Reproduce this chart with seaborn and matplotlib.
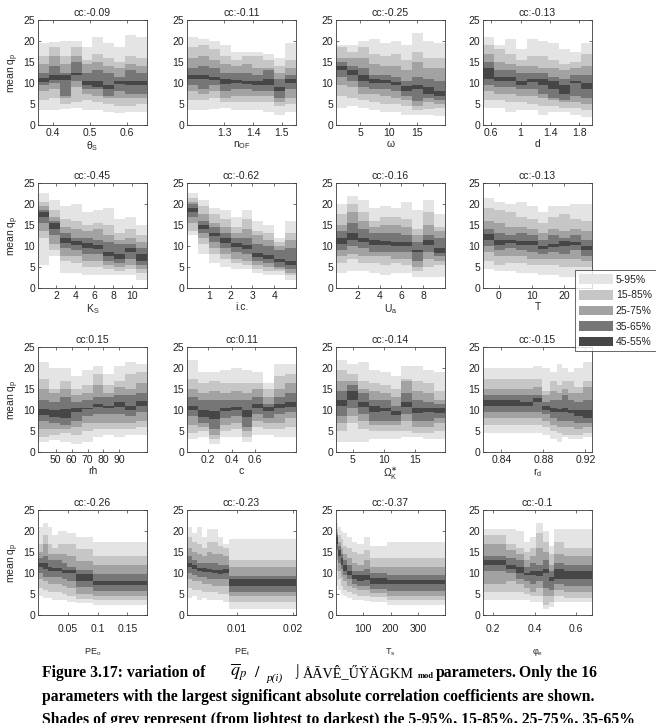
import numpy as np
import matplotlib.pyplot as plt
import seaborn as sns
from matplotlib.patches import Patch

# percentile bands (outer -> inner) and their greys
band_labels = ["5-95%", "15-85%", "25-75%", "35-65%", "45-55%"]
band_colors = ["#e4e4e4", "#c6c6c6", "#a2a2a2", "#767676", "#464646"]

# each *_q holds the 5,15,25,35,45,55,65,75,85,95th percentile of mean q_p per bin
thetas_edges = [0.36, 0.389, 0.419, 0.448, 0.478, 0.507, 0.537, 0.566, 0.596, 0.625, 0.655]
thetas_q = [
    [3.5, 3.5, 3.8, 4, 3.5, 3.5, 3.2, 2.8, 3, 3],
    [6, 6.5, 5, 5.5, 6, 5.5, 5, 4.5, 4.5, 5],
    [8, 8.5, 6.5, 9, 7.5, 7, 6.5, 6.5, 6.5, 6.5],
    [9.5, 10, 7, 10.5, 8.5, 8.5, 7, 8, 7.5, 7.5],
    [10.3, 10.8, 10.8, 11.8, 9.5, 9, 8.5, 9.8, 9.5, 9.5],
    [11.2, 11.8, 11.8, 12.3, 10.5, 10.5, 9.5, 10.5, 10.5, 10.5],
    [12.5, 14, 12.5, 15, 12.5, 13, 12.5, 11.5, 13, 12.5],
    [14.5, 16.5, 14.5, 16.5, 14.5, 15, 14, 13.5, 14.5, 14],
    [16.5, 18.5, 16.5, 18.5, 15.5, 17, 16, 15, 16.5, 16],
    [19.5, 19.8, 20, 20, 18.5, 21, 19.5, 18.5, 21.5, 21],
]

nof_edges = [1.17, 1.208, 1.246, 1.284, 1.322, 1.36, 1.398, 1.436, 1.474, 1.512, 1.55]
nof_q = [
    [3.5, 3.5, 3.8, 4, 3.5, 3.5, 3.5, 3, 2.5, 3],
    [6, 6, 6.5, 5.5, 5.5, 5.5, 5.5, 5.5, 4.5, 5],
    [8, 7.5, 8, 6.5, 7, 7, 7, 7, 5.5, 6.5],
    [9.5, 8.5, 9.5, 8, 8.5, 8.5, 8, 8, 6.5, 8.5],
    [11, 11, 10.8, 9.8, 10, 9.8, 9.5, 9.5, 8, 10],
    [12, 11.8, 11.5, 11, 10.8, 10.5, 10.5, 11, 9, 11],
    [13.5, 14, 13.5, 12.5, 12.5, 12.5, 12, 13, 11, 12],
    [16, 16.5, 15.5, 14.5, 14, 14.5, 13.5, 13.5, 12.5, 13.5],
    [18.5, 19, 18, 16.5, 15.5, 16.5, 16.5, 15.5, 14, 15.5],
    [21, 20.5, 20, 19, 17.5, 17.5, 17.5, 17, 16, 19.5],
]

omega_edges = [0.8, 2.7, 4.6, 6.5, 8.4, 10.3, 12.2, 14.1, 16.0, 17.9, 19.8]
omega_q = [
    [4, 4.5, 4, 3.5, 3, 3, 2.5, 2.5, 2.5, 2.2],
    [7, 6.5, 6, 5.5, 5, 5, 4.5, 3.5, 3.8, 4],
    [9.5, 9, 7.5, 7.5, 7, 6.5, 6, 4.5, 5.5, 5],
    [11.5, 10.5, 9, 8.5, 8.5, 8, 7, 5.8, 6.5, 6],
    [13, 12, 10.5, 10, 10, 9.5, 8.2, 8.5, 7.5, 7],
    [14, 13, 12, 11, 10.8, 10.3, 9.2, 9.5, 9, 8],
    [15, 14, 13.5, 12, 12, 11.5, 10.5, 11.5, 11, 10.5],
    [16, 16, 16, 14.5, 14, 14, 13, 15, 13.5, 13.5],
    [18.5, 17.5, 18.5, 17, 16.5, 17, 15.5, 17.5, 16, 16],
    [19, 19, 20, 20.5, 19.5, 20, 19, 22, 20, 19.5],
]

d_edges = [0.49, 0.638, 0.786, 0.934, 1.082, 1.23, 1.378, 1.526, 1.674, 1.822, 1.97]
d_q = [
    [4, 4, 3, 3.5, 3.5, 2.5, 3, 3, 2.5, 1.8],
    [6, 6, 5.5, 5.5, 5, 4.5, 4.5, 4, 4, 3.5],
    [8, 7.5, 7.5, 7, 7, 6.5, 6, 5.5, 5.5, 5],
    [9.5, 9, 9, 8.5, 8.5, 7.5, 6.5, 6, 7, 6.5],
    [11, 10.5, 10.5, 9.5, 10.2, 9.5, 8.5, 7.5, 10, 8.5],
    [13.5, 11.5, 11.5, 10.5, 11, 11, 10.5, 9.5, 10.5, 10],
    [15, 13, 13, 12.5, 12.5, 12.5, 11.5, 11, 12, 12],
    [17, 15, 14.5, 14, 14, 13.5, 13.5, 13, 13.5, 14],
    [19, 18, 17, 15.5, 16.5, 16.5, 15.5, 14.5, 15, 17],
    [21, 19, 20.5, 18, 20.5, 20, 19.5, 18, 17.5, 19.5],
]

ks_edges = [0.05, 1.2, 2.35, 3.5, 4.65, 5.8, 6.95, 8.1, 9.25, 10.4, 11.55]
ks_q = [
    [5.5, 7.5, 3.5, 3.5, 3, 3, 3, 3, 3, 2],
    [12, 9, 6.5, 6, 5, 5, 4.5, 4, 4.5, 3.5],
    [13.5, 10.5, 7.5, 7.5, 6.5, 6.5, 5.5, 5, 5.5, 4.5],
    [15.5, 12.5, 9.5, 9, 8, 8, 6.5, 6, 7, 5.5],
    [16.8, 14, 10.8, 10.3, 9.5, 9.2, 7.5, 7, 8.5, 6.5],
    [18, 15.5, 11.8, 11.3, 10.8, 10.3, 8.5, 8, 9.5, 8],
    [18.5, 16, 13, 12, 12, 11.5, 11, 10.5, 10.5, 9.5],
    [19.5, 17, 14.5, 14, 13.5, 14, 12.5, 11.5, 12, 11],
    [20.5, 18.5, 16.5, 16, 15, 15.5, 15, 13, 14, 12.5],
    [22.5, 21, 19.5, 20, 18, 18.5, 19, 16.5, 17, 15],
]

ic_edges = [0, 0.5, 1, 1.5, 2, 2.5, 3, 3.5, 4, 4.5, 5]
ic_q = [
    [12.5, 8, 6, 5, 4.5, 4.5, 3.5, 3, 3, 2],
    [13.5, 10.5, 8, 7, 6, 5.5, 4.5, 4, 4, 3],
    [15.5, 12, 9.5, 8, 7, 6.5, 5.5, 5, 4.5, 3.5],
    [17, 13, 11, 9.5, 8.5, 8, 6.5, 6, 5, 4.5],
    [18.2, 14, 12.3, 10.8, 9.8, 9.3, 7.3, 7, 6.2, 5.5],
    [19, 15, 13.2, 11.8, 10.8, 10.3, 8.3, 7.8, 7, 6.5],
    [20, 16, 14.5, 13, 12, 12, 10.5, 10, 9, 9.5],
    [20.5, 17.5, 15.5, 14.5, 13, 14, 12.5, 11.5, 10, 11.5],
    [21.5, 19.5, 17.5, 16.5, 14.5, 16.5, 13.5, 13, 11, 13],
    [22.5, 21, 19, 18.5, 17, 18.5, 16, 15, 12, 16],
]

ua_edges = [0, 1, 2, 3, 4, 5, 6, 7, 8, 9, 10]
ua_q = [
    [3.5, 4, 4, 3.5, 3, 3.5, 3.5, 2.5, 2.5, 2.5],
    [6, 7, 6, 6, 5.5, 6, 5.5, 4, 5, 5.5],
    [7.5, 8, 7.5, 7.5, 7.5, 7, 7, 5, 7, 6.5],
    [9, 10, 9.5, 8.5, 8.5, 8.5, 8.5, 6.5, 8.5, 7.5],
    [10.5, 11.5, 11, 10.3, 10.3, 10, 10, 8.5, 10.3, 8.3],
    [12, 13, 12, 11.5, 11.2, 11, 11, 9, 11.5, 9.5],
    [13.5, 15.5, 14, 13, 13, 13, 12.5, 11, 12.5, 12],
    [15, 18, 16, 14.5, 15, 15, 14.5, 12.5, 15, 13.5],
    [17.5, 20, 18, 16, 17, 17, 16.5, 14, 18, 14.5],
    [20, 22, 21, 19, 19.5, 19, 20.5, 18.5, 21, 17.5],
]

t_edges = [-4.8, -1.48, 1.84, 5.16, 8.48, 11.8, 15.12, 18.44, 21.76, 25.08, 28.4]
t_q = [
    [4.5, 4, 4, 3.5, 3.5, 3, 3, 2.5, 2.5, 2.5],
    [6.5, 5.5, 6, 6, 5.5, 5.5, 5.5, 5, 5, 5],
    [8.5, 7.5, 7.5, 7.5, 7, 7, 7, 7, 7, 6.5],
    [10, 9, 9.5, 9, 8.5, 8, 8.5, 8, 9, 7.5],
    [11.5, 10.3, 10.8, 10.3, 10.3, 9.3, 9.8, 10, 10.3, 9],
    [12.8, 11.5, 11.5, 11.3, 11.3, 10, 10.5, 11.3, 11, 10],
    [14, 13, 12.5, 13, 12.5, 11.5, 12.5, 12, 12.5, 11.5],
    [16, 15.5, 14.5, 14.5, 14, 13, 14, 13.5, 14, 13.5],
    [19, 18.5, 18, 17, 16.5, 15.5, 17, 17.5, 16.5, 16],
    [21.5, 20.5, 20, 20.5, 19.5, 18, 19.5, 19.5, 20, 20],
]

rh_edges = [38.8, 45.67, 52.54, 59.41, 66.28, 73.15, 80.02, 86.89, 93.76, 100.63, 107.5]
rh_q = [
    [2.5, 2.8, 2.5, 2, 2.5, 3.5, 4, 3.5, 4, 4],
    [3.5, 4, 4.5, 4, 5, 5.5, 5.5, 5.5, 5.5, 6],
    [5.5, 5.5, 5.5, 6, 7, 7, 7, 7, 7, 7.5],
    [7.5, 7, 6.5, 7.5, 8.5, 9, 9, 9, 8.5, 9.5],
    [8.8, 8.3, 8, 9.5, 10.3, 10.8, 10.5, 10.8, 10, 11],
    [10.3, 10, 10.3, 10.5, 10.5, 11.5, 11, 12, 11, 12.2],
    [12.5, 12, 13, 12, 12.5, 13, 13, 13.5, 13.5, 14],
    [15, 14, 15, 13.5, 14, 16, 14, 15.5, 15, 16.5],
    [17.5, 15, 17, 15, 16, 18.5, 16, 17, 18.5, 19],
    [21.5, 20, 20, 18, 19.5, 20.5, 18.5, 20.5, 21.5, 21],
]

c_edges = [0.02, 0.113, 0.206, 0.299, 0.392, 0.485, 0.578, 0.671, 0.764, 0.857, 0.95]
c_q = [
    [3, 3.5, 2, 3.5, 3.5, 2.5, 4, 4, 3.5, 3.5],
    [4.5, 5, 3, 5, 5.5, 3.5, 6, 5.5, 5.5, 6],
    [6.5, 6, 4, 6.5, 7, 5, 7.5, 7, 7, 8],
    [8.5, 7, 5.5, 8, 8.5, 6, 9, 8, 9, 9.5],
    [10, 8.3, 7.8, 9.8, 10, 8.3, 10.5, 9.8, 10.5, 10.8],
    [11, 10, 9.8, 10.5, 10.8, 10, 11.5, 10.8, 11.5, 12],
    [13, 12.5, 12.5, 12.5, 12.5, 12.5, 13, 11.5, 13, 14],
    [15, 14, 14.5, 14, 14.5, 14, 15, 13, 15, 16.5],
    [17.5, 16.5, 17, 16.5, 16.5, 16.5, 16.5, 15, 18, 18.5],
    [22, 19, 19, 19.5, 20, 19.5, 19, 16.5, 21, 21],
]

omk_edges = [2.3, 4.05, 5.8, 7.55, 9.3, 11.05, 12.8, 14.55, 16.3, 18.05, 19.8]
omk_q = [
    [2.5, 2.5, 2.5, 3, 3, 3, 3.5, 3.5, 3, 3],
    [5, 7, 5.5, 5, 5, 5, 5, 4.5, 4.5, 5],
    [7, 8.5, 7.5, 6.5, 6.5, 6.5, 7.5, 6, 6, 7],
    [8.5, 10.5, 9, 7.5, 7.5, 7.5, 9, 7.5, 7.5, 8],
    [11, 12.5, 10.8, 9.5, 9.8, 8.8, 10.8, 9.3, 9.5, 9.3],
    [12.5, 14.5, 12, 11, 10.5, 9.8, 12, 10.5, 10.5, 10.5],
    [14.5, 16, 14, 12.5, 12.5, 11, 14, 12.5, 12, 11.5],
    [17, 17, 15, 14.5, 14, 13, 17, 14.5, 14, 12.5],
    [19.5, 18.5, 17, 16.5, 16, 15, 17.5, 17, 16.5, 14.5],
    [22, 21, 21.5, 19.5, 19, 18, 20.5, 20.5, 19.5, 19],
]

rd_edges = [0.8226, 0.8574, 0.870, 0.8789, 0.8859, 0.8928, 0.8979, 0.9033, 0.9096, 0.9175, 0.9263]
rd_q = [
    [4.5, 4.5, 4.5, 4, 3, 2.5, 3.5, 3, 3, 3.5],
    [6.5, 6.5, 6.5, 6, 5, 4.5, 4, 4, 4, 4.5],
    [8, 8, 8, 7.5, 6.5, 6, 6, 6, 5.5, 6],
    [9.5, 9.5, 9.5, 9, 8, 7.5, 7.5, 7.5, 7, 7],
    [11, 11, 11.8, 10, 9.5, 9.5, 9.5, 9.3, 8.5, 8],
    [12.3, 12, 12.8, 11, 10.5, 10.3, 10.5, 10, 10, 10],
    [13.5, 13.5, 13.5, 12, 12.5, 12.5, 13.5, 12.5, 12, 12.5],
    [15, 15, 15.5, 13.5, 14.5, 14, 15, 14, 14, 15.5],
    [17.5, 17.5, 17.5, 14.5, 17, 16, 17, 17, 15.5, 17],
    [20, 20, 20.5, 20, 19, 21, 20, 19, 20, 21.5],
]

peo_edges = [0, 0.009, 0.017, 0.024, 0.033, 0.041, 0.049, 0.0635, 0.0915, 0.183]
peo_q = [
    [4.5, 4, 4, 3.5, 3.5, 3.5, 3, 2.9, 2.3],
    [6.5, 6, 5.5, 5.5, 5.5, 5, 4.5, 3.9, 3.5],
    [8.5, 8, 7.5, 7.5, 7.5, 7, 6.5, 5, 4.6],
    [10, 9, 9, 9, 9, 8.5, 8, 6.6, 5.8],
    [11.5, 11, 10.5, 10.5, 10.5, 10, 10, 8, 7.2],
    [12.5, 12.3, 11.5, 11.3, 11.3, 10.8, 10.8, 9.7, 8.2],
    [13.5, 14, 13, 13, 13, 12.5, 11.5, 10.8, 9.7],
    [15, 17, 14.5, 14.5, 14.5, 14.5, 14, 12.8, 12],
    [17, 19, 17, 16, 17, 17, 17, 15.8, 14],
    [21, 22, 21, 19, 20, 20, 19.5, 18.5, 17.5],
]

pet_edges = [0.0011, 0.002, 0.0029, 0.0038, 0.0047, 0.0055, 0.0066, 0.0075, 0.0085, 0.0205]
pet_q = [
    [4, 4.5, 3.5, 4, 3.5, 3.5, 3.5, 3, 1.5],
    [6.5, 6, 6, 5.5, 5.5, 5.5, 5, 5, 3],
    [8.5, 8, 8, 7.5, 7.5, 7, 7, 7, 4.5],
    [10, 9.5, 9, 9, 8.5, 8.5, 8.5, 8.5, 5.5],
    [11.5, 11, 10.5, 10.3, 10.3, 10, 9.8, 10, 7],
    [12.3, 11.8, 11.3, 11.3, 11, 10.8, 10.8, 11, 8.5],
    [14, 13, 12.5, 12.5, 12.5, 12.5, 12, 12, 9.3],
    [16, 15, 14.5, 14, 15, 14.5, 14.5, 14, 11.5],
    [18.5, 17.5, 17, 16, 17.5, 17.5, 16.5, 16, 13],
    [21, 19.5, 21, 18.5, 20.5, 20.5, 18.5, 17, 18],
]

ts_edges = [2, 10.6, 19, 29, 41, 59, 78, 102, 127, 188, 398]
ts_q = [
    [7, 6, 5, 4.5, 4, 3.5, 3.5, 3.3, 3, 2.5],
    [10.5, 8.5, 7, 6, 5.5, 5, 4.5, 4.5, 4.3, 3.5],
    [13, 10.5, 9, 8, 7, 6.5, 6, 6, 5.3, 4.5],
    [15.5, 12.5, 11, 9.5, 8.5, 7.5, 7, 7, 6.3, 5.8],
    [17, 14, 12, 10.5, 9.5, 8.5, 8.2, 8.3, 7.3, 7.3],
    [18.5, 15.5, 13.5, 12, 10.5, 9.5, 9.5, 9.5, 8.7, 8.3],
    [19, 16.5, 14.5, 13, 12, 10.5, 10.5, 11, 10, 9.5],
    [19.5, 17.5, 16, 14.5, 13.5, 12.5, 12, 13, 11.5, 11.5],
    [20.5, 19, 18, 16.5, 16, 15, 14.5, 15.5, 13.5, 13.5],
    [22, 21, 20, 19.5, 18.5, 17.5, 17, 18.5, 16.5, 17.5],
]

phie_edges = [0.152, 0.264, 0.312, 0.347, 0.376, 0.408, 0.439, 0.468, 0.495, 0.543, 0.676]
phie_q = [
    [3.5, 3.5, 3.5, 3.5, 3, 3, 1.5, 2, 3, 3],
    [5.5, 5.5, 5.5, 5, 4.5, 4.5, 2.5, 3, 4.5, 4],
    [7.5, 8, 7.5, 6.5, 5.5, 6.5, 4.5, 4.5, 6, 5.5],
    [10.5, 10, 8.5, 8, 7.5, 8, 6.5, 6, 7.5, 7],
    [12, 11, 10, 9.5, 9.5, 9.3, 10, 8, 8.5, 8.5],
    [13, 12, 11.5, 10, 10.5, 10.5, 11, 9, 11, 10.5],
    [14, 13.5, 13, 11.5, 12.5, 12, 13, 10.5, 12.5, 12],
    [17, 15.5, 14.5, 13, 14, 16, 15, 12, 14.5, 14],
    [19, 17, 16, 15, 16, 19.5, 17.5, 14.5, 17.5, 16],
    [20.5, 20.5, 20, 17.5, 18.5, 22, 20, 16.5, 20.5, 20.5],
]

cc_values = [-0.09, -0.11, -0.25, -0.13, -0.45, -0.62, -0.16, -0.13,
             0.15, 0.11, -0.14, -0.15, -0.26, -0.23, -0.37, -0.1]
x_labels = ["θ$_\\mathregular{S}$", "n$_\\mathregular{OF}$", "ω", "d",
            "K$_\\mathregular{S}$", "i.c.", "U$_\\mathregular{a}$", "T",
            "rh", "c", "Ω$_\\mathregular{K}^{\\ast}$", "r$_\\mathregular{d}$",
            "PE$_\\mathregular{o}$", "PE$_\\mathregular{t}$", "T$_\\mathregular{s}$", "φ$_\\mathregular{e}$"]
x_ticks = [[0.4, 0.5, 0.6], [1.3, 1.4, 1.5], [5, 10, 15], [0.6, 1, 1.4, 1.8],
           [2, 4, 6, 8, 10], [1, 2, 3, 4], [2, 4, 6, 8], [0, 10, 20],
           [50, 60, 70, 80, 90], [0.2, 0.4, 0.6], [5, 10, 15], [0.84, 0.88, 0.92],
           [0.05, 0.1, 0.15], [0.01, 0.02], [100, 200, 300], [0.2, 0.4, 0.6]]
y_ticks = [0, 5, 10, 15, 20, 25]

panels = [
    (thetas_edges, thetas_q), (nof_edges, nof_q), (omega_edges, omega_q), (d_edges, d_q),
    (ks_edges, ks_q), (ic_edges, ic_q), (ua_edges, ua_q), (t_edges, t_q),
    (rh_edges, rh_q), (c_edges, c_q), (omk_edges, omk_q), (rd_edges, rd_q),
    (peo_edges, peo_q), (pet_edges, pet_q), (ts_edges, ts_q), (phie_edges, phie_q),
]

sns.set_theme(style="ticks")
plt.rcParams["font.family"] = ["Liberation Sans", "DejaVu Sans"]
plt.rcParams["axes.edgecolor"] = "#3a3a3a"
plt.rcParams["axes.linewidth"] = 0.6
plt.rcParams["xtick.color"] = "#3a3a3a"
plt.rcParams["ytick.color"] = "#3a3a3a"
plt.rcParams["text.color"] = "#222222"

W, H = 656, 723
fig = plt.figure(figsize=(W / 100, H / 100), dpi=100)

col_left = [38, 187, 336, 483]
row_top = [20, 183, 347, 510]
ax_w, ax_h = 109, 105
fs = 7.5

for i, (edges, q) in enumerate(panels):
    r, c = divmod(i, 4)
    ax = fig.add_axes([col_left[c] / W, 1 - (row_top[r] + ax_h) / H, ax_w / W, ax_h / H])
    q = np.asarray(q, dtype=float)
    for k in range(5):
        ax.stairs(q[9 - k], edges, baseline=q[k], fill=True,
                  color=band_colors[k], linewidth=0)
    ax.set_xlim(edges[0], edges[-1])
    ax.set_ylim(0, 25)
    ax.set_xticks(x_ticks[i])
    ax.set_xticklabels([f"{t:g}" for t in x_ticks[i]])
    ax.set_yticks(y_ticks)
    ax.tick_params(direction="in", length=2.5, width=0.5, top=True, right=True,
                   labelsize=fs, pad=2, labelcolor="#222222")
    for s in ax.spines.values():
        s.set_visible(True)
    ax.set_title(f"cc:{cc_values[i]:g}", fontsize=fs, pad=3)
    if r == 3:
        ax.tick_params(axis="x", pad=6.5)
        ax.set_xlabel(x_labels[i], fontsize=6.5, labelpad=9)
    else:
        ax.set_xlabel(x_labels[i], fontsize=fs, labelpad=1)
    if c == 0:
        ax.set_ylabel("mean q$_\\mathregular{p}$", fontsize=fs, labelpad=2)

handles = [Patch(facecolor=col, edgecolor="none") for col in band_colors]
leg = fig.legend(handles, band_labels, loc="upper left",
                 bbox_to_anchor=(570 / W, 1 - 265 / H), fontsize=fs,
                 frameon=True, fancybox=False, edgecolor="#222222",
                 handlelength=3.2, handleheight=1.05, handletextpad=0.3,
                 labelspacing=0.5, borderpad=0.4)
leg.get_frame().set_linewidth(0.6)

# caption (partly garbled in the source)
cap = dict(fontfamily=["Liberation Serif", "DejaVu Serif"], color="black")
cfs = 11.3
fig.text(42 / W, 1 - 677 / H, "Figure 3.17: variation of", fontsize=cfs,
         fontweight="bold", va="baseline", **cap)
fig.text(230 / W, 1 - 677 / H, r"$\overline{q}_p$", fontsize=13,
         va="baseline", math_fontfamily="stix", **cap)
fig.text(254 / W, 1 - 677 / H, "/", fontsize=cfs, fontweight="bold",
         va="baseline", **cap)
fig.text(267 / W, 1 - 681 / H, "p(i)", fontsize=8, style="italic",
         va="baseline", **cap)
fig.text(293 / W, 1 - 675 / H, "⌡", fontsize=9, va="baseline", **cap)
fig.text(303 / W, 1 - 677 / H, "ÅĀVÊ_ŰŸÄGKM", fontsize=10.3,
         va="baseline", **cap)
fig.text(418 / W, 1 - 678 / H, "mod", fontsize=6, fontweight="bold",
         va="baseline", **cap)
fig.text(436 / W, 1 - 677 / H, "parameters.", fontsize=cfs,
         fontweight="bold", va="baseline", **cap)
fig.text(597 / W, 1 - 677 / H, "Only the 16", fontsize=cfs,
         fontweight="bold", va="baseline", ha="right", **cap)
fig.text(42 / W, 1 - 701 / H,
         "parameters with the largest significant absolute correlation coefficients are shown.",
         fontsize=cfs, fontweight="bold", va="baseline", **cap)
fig.text(42 / W, 1 - 724 / H,
         "Shades of grey represent (from lightest to darkest) the 5-95%, 15-85%, 25-75%, 35-65%",
         fontsize=cfs, fontweight="bold", va="baseline", **cap)

fig.savefig("out.png", dpi=100, facecolor="white")
